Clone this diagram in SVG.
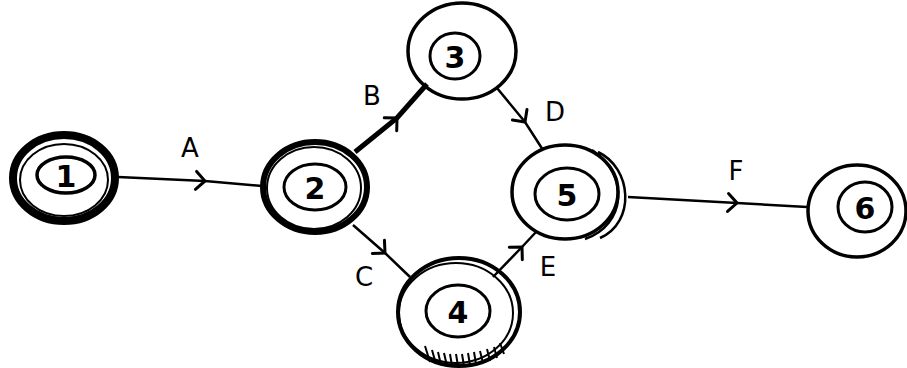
<svg xmlns="http://www.w3.org/2000/svg" width="907" height="368" viewBox="0 0 907 368">
<defs>
<style>
.o{fill:none;stroke:#000;stroke-width:3.5}
.i{fill:none;stroke:#000;stroke-width:3}
.n{font-family:"DejaVu Sans",sans-serif;font-size:30px;font-weight:bold;text-anchor:middle;dominant-baseline:central}
.l{font-family:"DejaVu Sans",sans-serif;font-size:26px;text-anchor:middle;dominant-baseline:central}
.e{fill:none;stroke:#000;stroke-width:2.5;marker-mid:url(#chev)}
</style>
<marker id="chev" markerUnits="userSpaceOnUse" viewBox="-12 -12 24 24" markerWidth="24" markerHeight="24" orient="auto">
<path d="M-9,-9 L0,0 L-9,9" fill="none" stroke="#000" stroke-width="3" stroke-linecap="round"/>
</marker>
</defs>
<rect width="907" height="368" fill="#fff"/>
<g id="connectors">
<path class="e" d="M118,177 L205,181 L262,186"/>
<path class="e" d="M355,152 L397,118 L427,84" style="stroke-width:5"/>
<path class="e" d="M353,225 L385,253 L410,277"/>
<path class="e" d="M497,88 L525,122 L543,150"/>
<path class="e" d="M493,277 L522,247 L536,232"/>
<path class="e" d="M628,197 L737,203 L807,207"/>
<text class="l" x="190" y="148">A</text>
<text class="l" x="372" y="96">B</text>
<text class="l" x="364" y="277">C</text>
<text class="l" x="555" y="112">D</text>
<text class="l" x="548" y="267">E</text>
<text class="l" x="736" y="171">F</text>
</g>
<g id="node1">
<ellipse class="o" cx="64" cy="178" rx="51" ry="43" style="stroke-width:8"/>
<ellipse class="o" cx="64" cy="180" rx="44" ry="36" style="stroke-width:2"/>
<ellipse class="i" cx="66" cy="175" rx="29" ry="18" style="stroke-width:3.5"/>
<text class="n" x="66" y="176">1</text>
</g>
<g id="node2">
<ellipse class="o" cx="315" cy="187" rx="52" ry="45" style="stroke-width:6"/>
<ellipse class="o" cx="314" cy="188" rx="47" ry="41" style="stroke-width:2"/>
<ellipse class="i" cx="315" cy="187" rx="31" ry="23"/>
<text class="n" x="315" y="188">2</text>
</g>
<g id="node3">
<ellipse class="o" cx="462" cy="51" rx="54" ry="48"/>
<ellipse class="i" cx="455" cy="56" rx="25" ry="23"/>
<text class="n" x="455" y="57">3</text>
</g>
<g id="node4">
<ellipse class="o" cx="459" cy="312" rx="61" ry="54" style="stroke-width:4"/>
<ellipse class="o" cx="456" cy="313" rx="57" ry="50" style="stroke-width:2"/>
<ellipse class="i" cx="458" cy="311" rx="32" ry="26"/>
<text class="n" x="458" y="312">4</text>
<path d="M425,346 L430,362 M432,350 L436,364 M438,352 L441,365 M444,353 L447,366 M450,354 L452,366 M456,354 L458,366 M462,354 L464,366 M468,353 L470,365 M474,352 L476,364 M480,351 L483,363 M487,349 L490,361 M494,347 L497,358 M500,343 L504,354" fill="none" stroke="#000" stroke-width="2"/>
</g>
<g id="node5">
<ellipse class="o" cx="565" cy="192" rx="53" ry="47"/>
<path d="M598,152 C632,168 636,222 600,238 M592,150 C630,175 626,225 585,239" fill="none" stroke="#000" stroke-width="2.5"/>
<ellipse class="i" cx="567" cy="194" rx="32" ry="26"/>
<text class="n" x="567" y="195">5</text>
</g>
<g id="node6">
<ellipse class="o" cx="857" cy="211" rx="49" ry="46"/>
<ellipse class="i" cx="865" cy="207" rx="27" ry="25"/>
<text class="n" x="865" y="208">6</text>
</g>
</svg>
